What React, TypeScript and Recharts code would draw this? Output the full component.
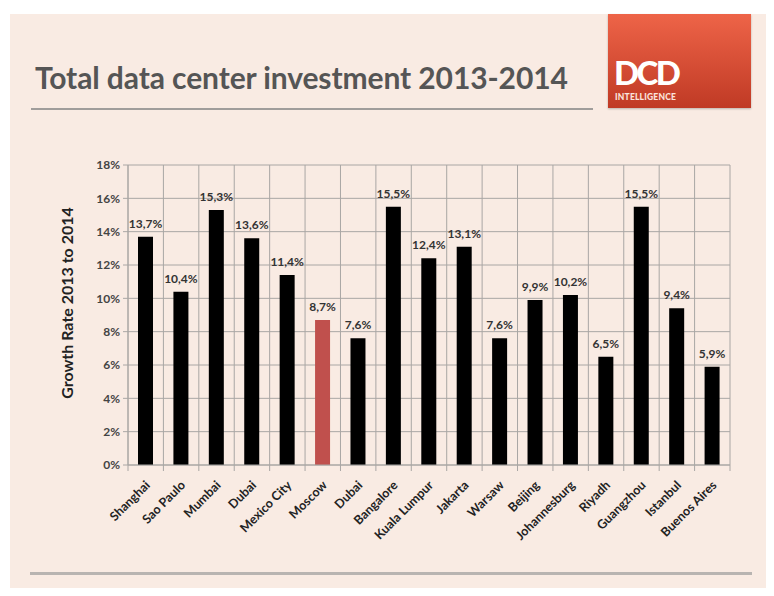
import { BarChart, Bar, XAxis, YAxis, CartesianGrid, Cell, LabelList, Label } from "recharts";

const cities = [
  "Shanghai", "Sao Paulo", "Mumbai", "Dubai", "Mexico City", "Moscow", "Dubai", "Bangalore",
  "Kuala Lumpur", "Jakarta", "Warsaw", "Beijing", "Johannesburg", "Riyadh", "Guangzhou", "Istanbul", "Buenos Aires",
];
const growth = [13.7, 10.4, 15.3, 13.6, 11.4, 8.7, 7.6, 15.5, 12.4, 13.1, 7.6, 9.9, 10.2, 6.5, 15.5, 9.4, 5.9];
const highlighted = ["Moscow"];
const yTicks = [0, 2, 4, 6, 8, 10, 12, 14, 16, 18];

const data = cities.map((city, i) => ({ city, value: growth[i] }));

const FONT = "Lato, 'Open Sans', sans-serif";
const GRID = "#a9a6a4";

const CityTick = (props: any) => {
  const { x, y, payload, index, visibleTicksCount } = props;
  const half = payload.offset || 0;
  const last = index === visibleTicksCount - 1;
  return (
    <g>
      <line x1={x - half} x2={x - half} y1={y - 8} y2={y - 2} stroke={GRID} />
      {last && <line x1={x + half} x2={x + half} y1={y - 8} y2={y - 2} stroke={GRID} />}
      <text
        x={x + 5}
        y={y + 13}
        transform={`rotate(-45, ${x + 5}, ${y + 13})`}
        textAnchor="end"
        fontSize={12.5}
        fontWeight={700}
        fill="#222"
        fontFamily={FONT}
      >
        {payload.value}
      </text>
    </g>
  );
};

export default function App() {
  return (
    <div style={{ position: "relative", width: 774, height: 596, margin: -8, background: "#fff", fontFamily: FONT }}>
      <div style={{ position: "absolute", left: 10, top: 14, width: 764, height: 582, background: "#f9ebe3" }} />
      <div
        style={{
          position: "absolute", left: 35, top: 59, fontSize: 30, fontWeight: 700, color: "#555",
          whiteSpace: "nowrap", lineHeight: "36px", letterSpacing: -0.1,
        }}
      >
        Total data center investment 2013-2014
      </div>
      <div style={{ position: "absolute", left: 31, top: 108, width: 562, height: 2, background: "#a09d9b" }} />
      <div
        style={{
          position: "absolute", left: 608, top: 14, width: 143, height: 94,
          background: "linear-gradient(#ee6448, #c03a25)", boxShadow: "0 1px 2px rgba(0,0,0,0.25)",
        }}
      >
        <div style={{ position: "absolute", left: 6, top: 46, color: "#fff", fontSize: 33, fontWeight: 900, letterSpacing: -2.5, lineHeight: "24px" }}>
          DCD
        </div>
        <div style={{ position: "absolute", left: 7, top: 78, color: "#fbe3dc", fontSize: 8.5, fontWeight: 900, letterSpacing: 0.2 }}>
          INTELLIGENCE
        </div>
      </div>
      <div style={{ position: "absolute", left: 30, top: 572, width: 722, height: 3, background: "#b8b4b1" }} />
      <div style={{ position: "absolute", left: 0, top: 0 }}>
        <BarChart
          width={774}
          height={596}
          data={data}
          margin={{ top: 165, right: 44, bottom: 51, left: 68 }}
          barSize={15}
        >
          <CartesianGrid
            stroke={GRID}
            strokeWidth={1}
            verticalCoordinatesGenerator={({ offset }: any) =>
              cities.map((_, i) => offset.left + (i * offset.width) / cities.length).concat([offset.left + offset.width])
            }
          />
          <XAxis
            dataKey="city"
            interval={0}
            height={80}
            axisLine={{ stroke: GRID }}
            tickLine={false}
            tick={<CityTick />}
          />
          <YAxis
            width={60}
            domain={[0, 18]}
            ticks={yTicks}
            interval={0}
            tickFormatter={(v: number) => `${v}%`}
            axisLine={{ stroke: GRID }}
            tickLine={{ stroke: GRID }}
            tickSize={5}
            tickMargin={3}
            tick={{ fontSize: 12, fontWeight: 700, fill: "#444", fontFamily: FONT }}
          >
            <Label
              value="Growth Rate 2013 to 2014"
              angle={-90}
              position="center"
              dx={-31}
              dy={-12}
              style={{ fontSize: 16, fontWeight: 700, fill: "#222", fontFamily: FONT }}
            />
          </YAxis>
          <Bar dataKey="value" isAnimationActive={false} fill="#000">
            {data.map((d, i) => (
              <Cell key={i} fill={highlighted.includes(d.city) ? "#c0504d" : "#000"} />
            ))}
            <LabelList
              dataKey="value"
              position="top"
              offset={9}
              formatter={(v: any) => `${Number(v).toFixed(1).replace(".", ",")}%`}
              style={{ fontSize: 12, fontWeight: 700, fill: "#333", fontFamily: FONT }}
            />
          </Bar>
        </BarChart>
      </div>
    </div>
  );
}
